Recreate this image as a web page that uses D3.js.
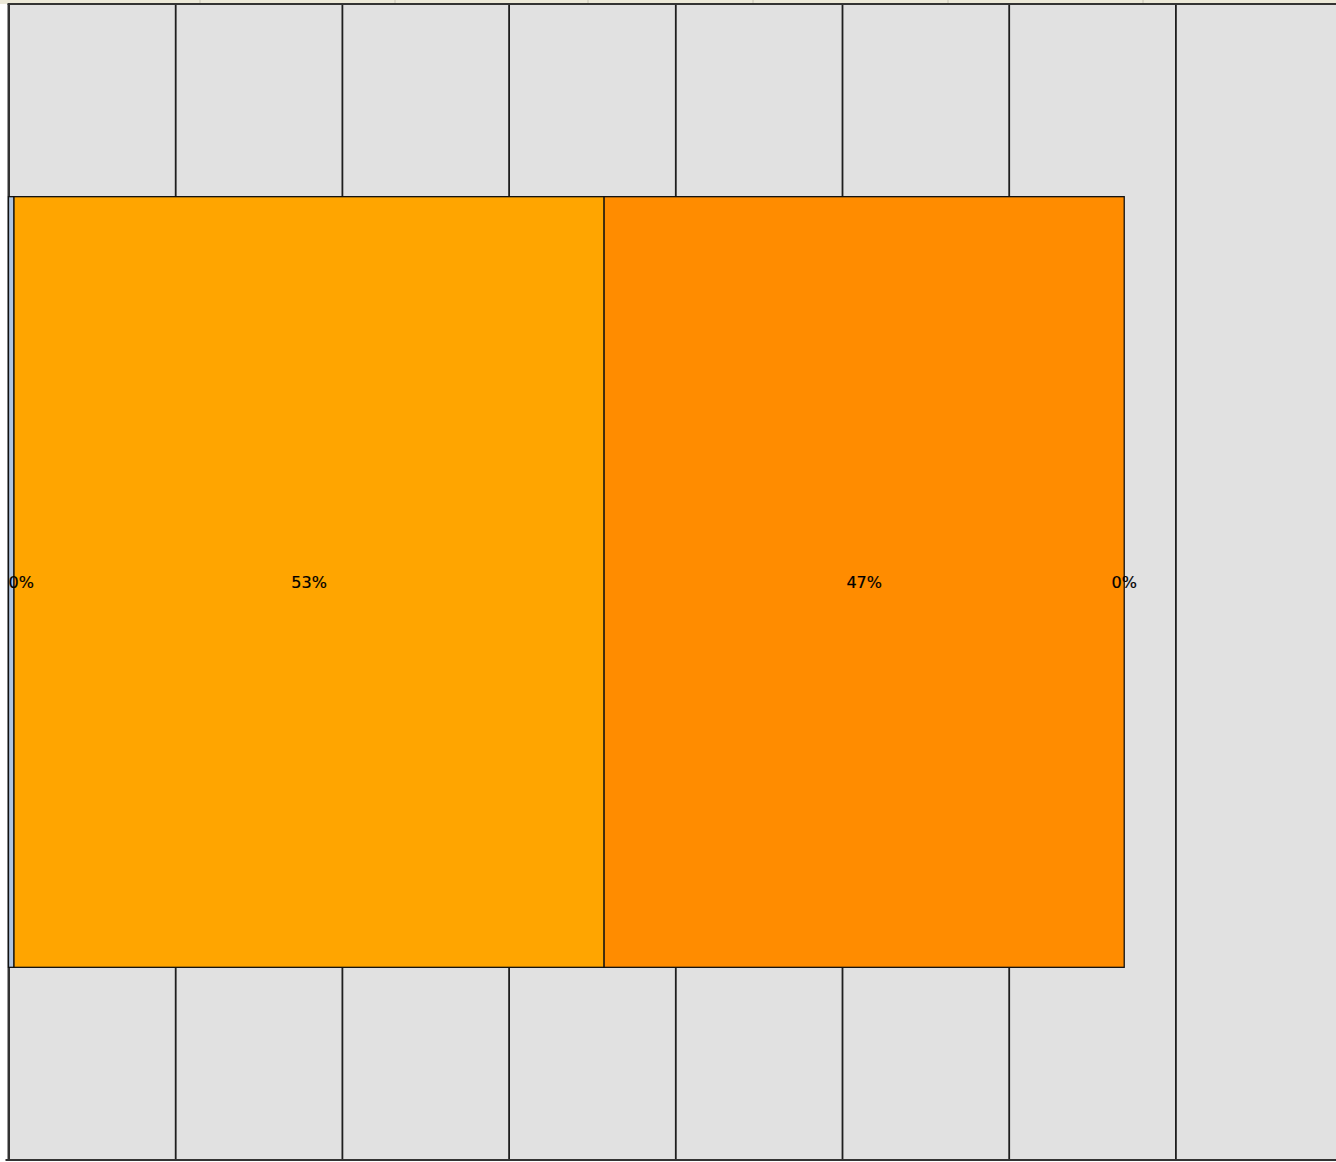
<!DOCTYPE html>
<html>
<head>
<meta charset="utf-8">
<script src="https://cdn.jsdelivr.net/npm/d3@7/dist/d3.min.js"></script>
<style>
html,body{margin:0;padding:0;background:#fff;}
svg{display:block;}
</style>
</head>
<body>
<svg id="chart" width="1336" height="1162"></svg>
<script>
// ---- data ----
const categories = ["Total"];
const seriesNames = ["S1", "S2", "S3", "S4"];
const seriesValues = [0.33, 35.4, 31.2, 0];
const seriesColors = ["#b0c4de", "#ffa500", "#ff8c00", "#ff7f00"];
const tickValues = [0, 10, 20, 30, 40, 50, 60, 70];

(function () {
const W = 1336;
const padLeft = 8.5, padTop = 4, padBottom = 1160;
const svg = d3.select("#chart");

const x = d3.scaleLinear().domain([0, 80]).range([padLeft, padLeft + 80 * 16.67]);
const y = d3.scaleBand().domain(categories).range([padTop, padBottom]).paddingInner(0).paddingOuter(0.25);

// legend strip (cut off at top)
svg.append("rect").attr("x", 0).attr("y", 0).attr("width", W).attr("height", 4).attr("fill", "#ece9d8");
const legendSeps = [200, 395, 588, 753, 948, 1143];
svg.selectAll("line.lsep").data(legendSeps).enter().append("line")
  .attr("x1", d => d).attr("x2", d => d).attr("y1", 0).attr("y2", 3)
  .attr("stroke", "#c8c4b4").attr("stroke-width", 1);

// plot background
svg.append("rect").attr("x", padLeft).attr("y", padTop).attr("width", W - padLeft).attr("height", padBottom - padTop)
  .attr("fill", "#e1e1e1");

// gridlines via axis
const grid = svg.append("g").attr("transform", `translate(0,${padBottom})`)
  .call(d3.axisBottom(x).tickValues(tickValues).tickSize(-(padBottom - padTop)).tickFormat(""));
grid.select(".domain").remove();
grid.selectAll(".tick line").attr("stroke", "#1e1e1e").attr("stroke-width", 1.8);

// frame lines
svg.append("line").attr("x1", padLeft - 1).attr("x2", W).attr("y1", padTop).attr("y2", padTop)
  .attr("stroke", "#333").attr("stroke-width", 2);
svg.append("line").attr("x1", padLeft - 3).attr("x2", W).attr("y1", padBottom).attr("y2", padBottom)
  .attr("stroke", "#333").attr("stroke-width", 2);
svg.append("line").attr("x1", padLeft).attr("x2", padLeft).attr("y1", padTop).attr("y2", padBottom)
  .attr("stroke", "#333").attr("stroke-width", 2);

// stacked bar
const total = d3.sum(seriesValues);
let acc = 0;
const segs = seriesValues.map((v, i) => {
  const s = {name: seriesNames[i], v, x0: acc, x1: acc + v, color: seriesColors[i]};
  acc += v;
  return s;
});

const g = svg.append("g");
g.selectAll("rect.seg").data(segs.filter(d => d.v > 0)).enter().append("rect")
  .attr("class", "seg")
  .attr("x", d => x(d.x0))
  .attr("y", y(categories[0]))
  .attr("width", d => x(d.x1) - x(d.x0))
  .attr("height", y.bandwidth())
  .attr("fill", d => d.color)
  .attr("stroke", "#111")
  .attr("stroke-width", 1.3);

// labels
const labels = g.selectAll("text.lbl").data(segs).enter().append("text")
  .attr("class", "lbl")
  .attr("y", y(categories[0]) + y.bandwidth() / 2)
  .attr("dy", "0.35em")
  .attr("font-family", "DejaVu Sans, sans-serif")
  .attr("font-size", 16)
  .attr("fill", "#000")
  .attr("stroke", "#000")
  .attr("stroke-width", 0.2)
  .text(d => Math.round(d.v / total * 100) + "%");
labels.each(function (d) {
  const w = this.getComputedTextLength();
  const cx = (x(d.x0) + x(d.x1)) / 2;
  let sx = cx - w / 2;
  if (sx < padLeft) sx = padLeft;
  d3.select(this).attr("x", sx);
});
})();
</script>
</body>
</html>
